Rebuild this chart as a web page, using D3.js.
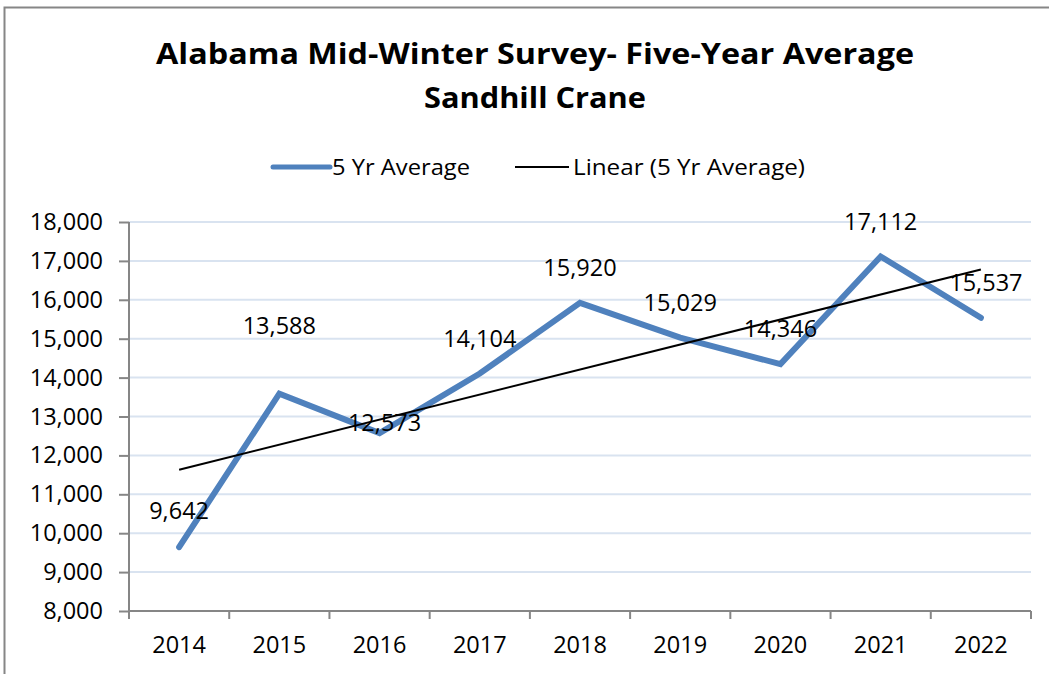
<!DOCTYPE html>
<html>
<head>
<meta charset="utf-8">
<script src="https://cdn.jsdelivr.net/npm/d3@7"></script>
<style>
  body { margin: 0; background: #fff; }
  svg { display: block; font-family: "Open Sans", sans-serif; }
</style>
</head>
<body>
<svg id="vis-svg" width="1049" height="674"></svg>
<script>
var width  = 1049;
var height = 674;
var margin = { top: 222, bottom: 63, left: 129, right: 18 };

// data
const years  = ["2014","2015","2016","2017","2018","2019","2020","2021","2022"];
const avg5yr = [9642, 13588, 12573, 14104, 15920, 15029, 14346, 17112, 15537];
const yTicks = [8000, 9000, 10000, 11000, 12000, 13000, 14000, 15000, 16000, 17000, 18000];

// hand-moved data labels (pixel nudges, like the original)
const labelLift = { "2014": 36, "2015": 68, "2016": 10 };
const labelShift = { "2016": 5, "2022": 5 };

const graphWidth = width - margin.left - margin.right;
const graphHeight = height - margin.top - margin.bottom;

const svg = d3.select("#vis-svg");

// chart area border
svg.append("rect")
  .attr("x", 4.5).attr("y", 7.5)
  .attr("width", 1100).attr("height", 700)
  .attr("fill", "#fff").attr("stroke", "#868686").attr("stroke-width", 2);

// title (Excel's font is taller & wider, so stretch to the same width)
svg.append("text").attr("x", 535).attr("y", 64)
  .attr("text-anchor", "middle").attr("font-size", 29).attr("font-weight", "bold")
  .attr("textLength", 758).attr("lengthAdjust", "spacingAndGlyphs")
  .text("Alabama Mid-Winter Survey- Five-Year Average");
svg.append("text").attr("x", 535).attr("y", 108)
  .attr("text-anchor", "middle").attr("font-size", 29).attr("font-weight", "bold")
  .attr("textLength", 222).attr("lengthAdjust", "spacingAndGlyphs")
  .text("Sandhill Crane");

// legend
const legend = svg.append("g").attr("font-size", 22).attr("fill", "#000");
legend.append("line").attr("x1", 273).attr("x2", 330).attr("y1", 167).attr("y2", 167)
  .attr("stroke", "#4f81bd").attr("stroke-width", 5).attr("stroke-linecap", "round");
legend.append("text").attr("x", 332).attr("y", 175)
  .attr("textLength", 138).attr("lengthAdjust", "spacingAndGlyphs").text("5 Yr Average");
legend.append("line").attr("x1", 515).attr("x2", 569).attr("y1", 167).attr("y2", 167)
  .attr("stroke", "#000").attr("stroke-width", 2);
legend.append("text").attr("x", 573).attr("y", 175)
  .attr("textLength", 232).attr("lengthAdjust", "spacingAndGlyphs").text("Linear (5 Yr Average)");

const graph = svg.append("g").attr("transform", `translate(${margin.left},${margin.top})`);

const x = d3.scaleBand().domain(years).range([0, graphWidth]);
const y = d3.scaleLinear().domain([8000, 18000]).range([graphHeight, 0]);
const cx = d => x(d) + x.bandwidth() / 2;

// gridlines
graph.selectAll(".grid").data(yTicks.slice(1)).enter()
  .append("line").attr("class", "grid")
  .attr("x1", 0).attr("x2", graphWidth)
  .attr("y1", d => y(d)).attr("y2", d => y(d))
  .attr("stroke", "#d9e3f0").attr("stroke-width", 2);

// y axis
const yAxis = graph.append("g")
  .call(d3.axisLeft(y).tickValues(yTicks).tickFormat(d3.format(",")).tickSize(10).tickPadding(16));
yAxis.select(".domain").attr("stroke", "#868686").attr("stroke-width", 2)
  .attr("d", `M0,${graphHeight}V0`);
yAxis.selectAll(".tick line").attr("stroke", "#868686").attr("stroke-width", 2);
yAxis.selectAll(".tick text").attr("font-size", 23.5).attr("fill", "#000")
  .attr("font-family", "Open Sans, sans-serif");

// x axis with ticks between categories
const xAxis = graph.append("g").attr("transform", `translate(0,${graphHeight})`);
xAxis.append("line").attr("x1", 0).attr("x2", graphWidth).attr("y1", 0).attr("y2", 0)
  .attr("stroke", "#868686").attr("stroke-width", 2);
xAxis.selectAll(".xt").data(years.concat(["end"])).enter()
  .append("line").attr("class", "xt")
  .attr("x1", (d, i) => i * x.bandwidth()).attr("x2", (d, i) => i * x.bandwidth())
  .attr("y1", 0).attr("y2", 8)
  .attr("stroke", "#868686").attr("stroke-width", 2);
xAxis.selectAll(".xl").data(years).enter()
  .append("text").attr("class", "xl")
  .attr("x", d => cx(d)).attr("y", 42)
  .attr("text-anchor", "middle").attr("font-size", 23.5).attr("fill", "#000")
  .text(d => d);

// series line
const pts = years.map((d, i) => [cx(d), y(avg5yr[i])]);
graph.append("path").attr("d", d3.line()(pts))
  .attr("fill", "none").attr("stroke", "#4f81bd").attr("stroke-width", 6)
  .attr("stroke-linejoin", "miter").attr("stroke-linecap", "round");

// linear trendline (least squares, like Excel)
const n = avg5yr.length;
const mx = (n + 1) / 2;
const my = d3.mean(avg5yr);
const slope = d3.sum(avg5yr, (v, i) => (i + 1 - mx) * (v - my)) / d3.sum(avg5yr, (v, i) => (i + 1 - mx) ** 2);
const fit = i => my + slope * (i + 1 - mx);
graph.append("line")
  .attr("x1", cx(years[0])).attr("y1", y(fit(0)))
  .attr("x2", cx(years[n - 1])).attr("y2", y(fit(n - 1)))
  .attr("stroke", "#000").attr("stroke-width", 2);

// data labels
graph.selectAll(".lbl").data(years).enter()
  .append("text").attr("class", "lbl")
  .attr("x", d => cx(d) + (labelShift[d] || 0))
  .attr("y", (d, i) => y(avg5yr[i]) - (labelLift[d] !== undefined ? labelLift[d] : 35) + 8)
  .attr("text-anchor", "middle").attr("font-size", 23.5).attr("fill", "#000")
  .text((d, i) => d3.format(",")(avg5yr[i]));
</script>
</body>
</html>
